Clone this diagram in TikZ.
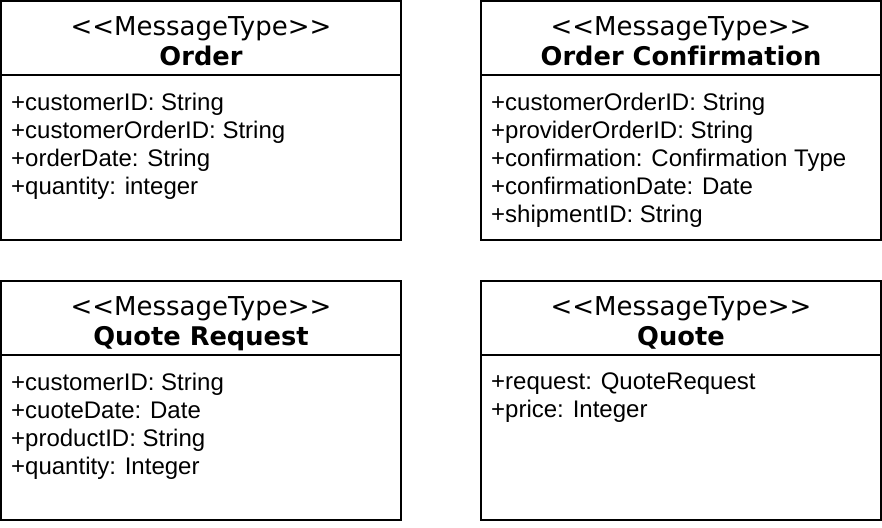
\documentclass[tikz,border=0pt]{standalone}
\usepackage{fontspec}
\usepackage{tikz}
\usetikzlibrary{positioning}
\newfontfamily\headfont{DejaVu Sans}[Ligatures=NoCommon]
\newfontfamily\attrfont{Liberation Sans}
\newcommand\classname[1]{{\fontsize{25.7bp}{30bp}\selectfont\bfseries #1}}

\begin{document}
\begin{tikzpicture}[
    node distance=80bp,
    head/.style={rectangle, draw, line width=2bp, outer sep=0pt, inner sep=0pt,
      minimum width=400bp, minimum height=73.5bp, align=center,
      text height=60bp, text depth=5bp, font=\headfont\fontsize{26bp}{30bp}\selectfont},
    body/.style={rectangle, draw, line width=2bp, outer sep=0pt,
      minimum width=400bp, minimum height=165.5bp},
    attrs/.style={inner sep=0pt, align=left, anchor=north west,
      font=\attrfont\fontsize{24bp}{28bp}\selectfont}
]
\useasboundingbox (0,0) rectangle (882bp,-528bp);

% top row
\node[head, anchor=north west] (order) at (1bp,-1bp) {<<MessageType>>\\\classname{Order}};
\node[body, below=0pt of order] (orderbody) {};
\node[head, right=80bp of order] (conf) {<<MessageType>>\\\classname{Order Confirmation}};
\node[body, below=0pt of conf] (confbody) {};

% bottom row
\node[head, below=41bp of orderbody] (request) {<<MessageType>>\\\classname{Quote Request}};
\node[body, below=0pt of request] (requestbody) {};
\node[head, right=80bp of request] (quote) {<<MessageType>>\\\classname{Quote}};
\node[body, below=0pt of quote] (quotebody) {};

% attributes
\node[attrs, below right=18bp and 10bp of orderbody.north west] (orderattrs)
  {+customerID: String\\+customerOrderID: String\\+orderDate: String\\+quantity: integer};
\node[attrs, below right=18bp and 10bp of confbody.north west] (confattrs)
  {+customerOrderID: String\\+providerOrderID: String\\+confirmation: Confirmation Type\\+confirmationDate: Date\\+shipmentID: String};
\node[attrs, below right=18bp and 10bp of requestbody.north west] (requestattrs)
  {+customerID: String\\+cuoteDate: Date\\+productID: String\\+quantity: Integer};
\node[attrs, below right=18bp and 10bp of quotebody.north west] (quoteattrs)
  {+request: QuoteRequest\\+price: Integer};
\end{tikzpicture}
\end{document}
